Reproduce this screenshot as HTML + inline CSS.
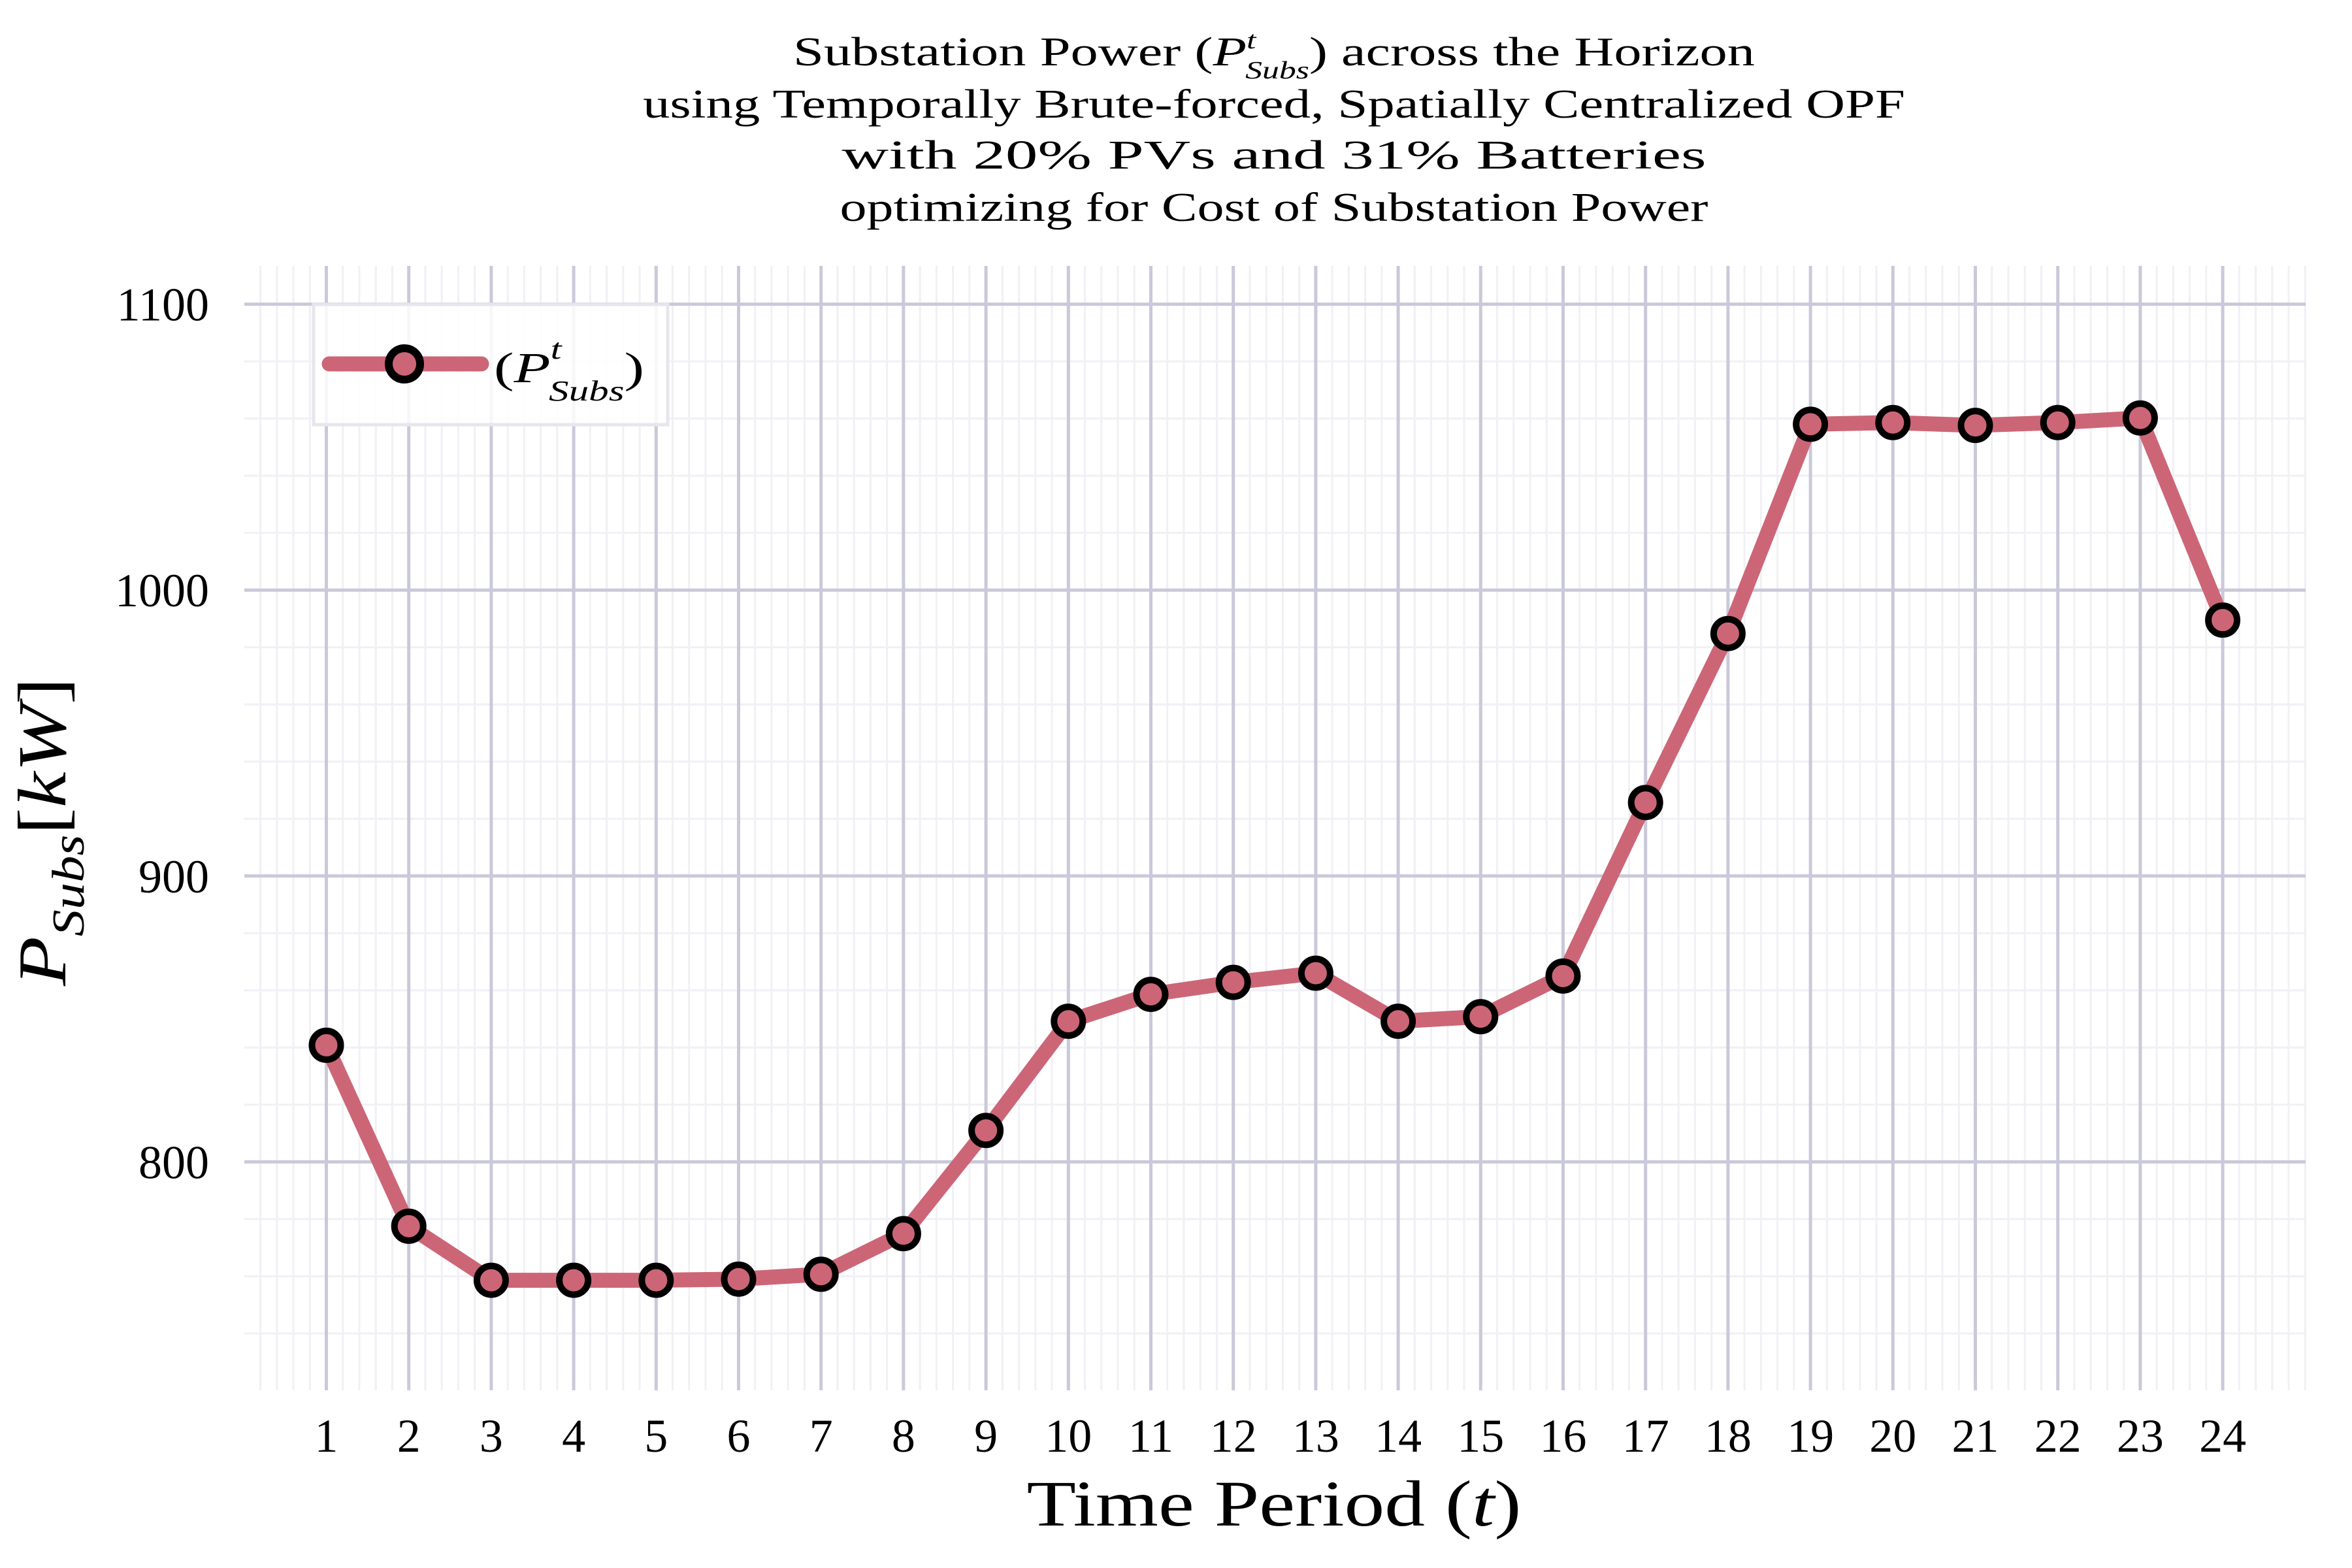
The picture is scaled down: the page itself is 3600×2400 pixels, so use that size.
<!DOCTYPE html>
<html><head><meta charset="utf-8"><style>
html,body{margin:0;padding:0;background:#fff;}
svg{display:block;font-family:"Liberation Serif",serif;}
</style></head><body>
<svg id="chart" width="3600" height="2400" viewBox="0 0 3600 2400" xmlns="http://www.w3.org/2000/svg">
<rect width="3600" height="2400" fill="#fff"/>
<g id="grid"></g>
<g id="series"></g>
<g id="ticks"></g>
<g font-size="62" text-anchor="middle" fill="#000">
<text x="1950" y="100" textLength="1472" lengthAdjust="spacingAndGlyphs">Substation Power (<tspan font-style="italic">P</tspan><tspan font-style="italic" font-size="38" dy="-26">t</tspan><tspan font-style="italic" font-size="38" dx="-12" dy="46">Subs</tspan><tspan dy="-20">) across the Horizon</tspan></text>
<text x="1950" y="180" textLength="1932" lengthAdjust="spacingAndGlyphs">using Temporally Brute-forced, Spatially Centralized OPF</text>
<text x="1950" y="258" textLength="1323" lengthAdjust="spacingAndGlyphs">with 20% PVs and 31% Batteries</text>
<text x="1950" y="338" textLength="1329" lengthAdjust="spacingAndGlyphs">optimizing for Cost of Substation Power</text>
</g>
<text x="1950" y="2335" font-size="100" text-anchor="middle" textLength="757" lengthAdjust="spacingAndGlyphs">Time Period (<tspan font-style="italic">t</tspan>)</text>
<text transform="translate(100,1273) rotate(-90)" font-size="105" text-anchor="middle" textLength="472" lengthAdjust="spacingAndGlyphs"><tspan font-style="italic">P</tspan><tspan font-style="italic" font-size="70" dy="28">Subs</tspan><tspan dy="-28">[</tspan><tspan font-style="italic">kW</tspan>]</text>
<g>
<rect x="480" y="466" width="542" height="184" fill="#fff" fill-opacity="0.85" stroke="#e6e6ee" stroke-width="5"/>
<line x1="504" y1="557" x2="737" y2="557" stroke="#cc6677" stroke-width="23" stroke-linecap="round"/>
<circle cx="619" cy="557" r="24" fill="#cc6677" stroke="#000" stroke-width="12"/>
<text x="756" y="585" font-size="66" textLength="230" lengthAdjust="spacingAndGlyphs">(<tspan font-style="italic">P</tspan><tspan font-style="italic" font-size="44" dy="-36">t</tspan><tspan font-style="italic" font-size="44" dx="-14" dy="64">Subs</tspan><tspan dy="-28">)</tspan></text>
</g>
</svg>
<script>
const categories = [1,2,3,4,5,6,7,8,9,10,11,12,13,14,15,16,17,18,19,20,21,22,23,24];
const values = [840.8,777.5,758.6,758.6,758.6,759,760.7,774.9,811,849.2,858.6,862.8,866,849.2,850.8,865,925.7,984.8,1058,1058.6,1057.6,1058.6,1060.2,989.5];
const yTicks = [800,900,1000,1100];
const yTickLabels = ["800","900","1000","1100"];

const NS = "http://www.w3.org/2000/svg";
const PL = 374, PR = 3529, PT = 407, PB = 2128;
function xs(t){ return 499.5 + (t - 1) * 126.2; }
function ys(v){ return 465.6 + (1100 - v) * 4.376; }
function mk(tag, attrs, parent){ const e = document.createElementNS(NS, tag); for (const k in attrs) e.setAttribute(k, attrs[k]); parent.appendChild(e); return e; }

const grid = document.getElementById('grid');
for (let t = 0; t <= 25.2; t += 0.2) {
  const x = xs(t); if (x < PL || x > PR) continue;
  const l = mk('line', {x1:x, x2:x, y1:PT, y2:PB, stroke:'#f0f0f5', 'stroke-width':3}, grid);
  
  
}
for (let v = 700; v <= 1120; v += 20) {
  const y = ys(v); if (y < PT || y > PB) continue;
  const l = mk('line', {x1:PL, x2:PR, y1:y, y2:y, stroke:'#f0f0f5', 'stroke-width':3}, grid);
  
  
}
categories.forEach(c => {
  const x = xs(c);
  const l = mk('line', {x1:x, x2:x, y1:PT, y2:PB, stroke:'#cac9da', 'stroke-width':5}, grid);
  
  
});
yTicks.forEach(v => {
  const y = ys(v);
  const l = mk('line', {x1:PL, x2:PR, y1:y, y2:y, stroke:'#cac9da', 'stroke-width':5}, grid);
  
  
});

const ticks = document.getElementById('ticks');
categories.forEach(c => {
  const t = mk('text', {x:xs(c), y:2222, 'font-size':72, 'text-anchor':'middle'}, ticks);
  t.textContent = String(c);
  
  
});
yTicks.forEach((v, i) => {
  const t = mk('text', {x:320, y:ys(v) + 25, 'font-size':72, 'text-anchor':'end'}, ticks);
  t.textContent = yTickLabels[i];
  
  
});

const series = document.getElementById('series');
const pts = categories.map((c, i) => xs(c) + ',' + ys(values[i])).join(' ');
const pl = mk('polyline', {points:pts, fill:'none', stroke:'#cc6677', 'stroke-width':23, 'stroke-linejoin':'round', 'stroke-linecap':'round'}, series);


categories.forEach((c, i) => {
  const m = mk('circle', {cx:xs(c), cy:ys(values[i]), r:22, fill:'#cc6677', stroke:'#000', 'stroke-width':10}, series);
  
  
});
</script>
</body></html>
